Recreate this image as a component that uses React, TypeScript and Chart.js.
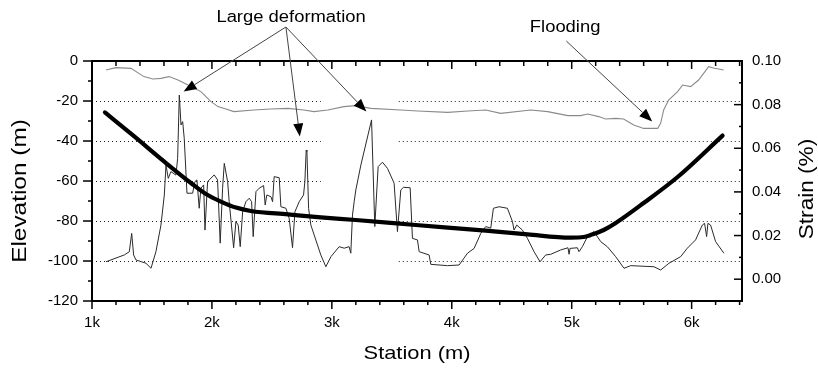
import React, { useEffect, useRef } from "react";
import { Chart, registerables } from "chart.js";

Chart.register(...registerables);

// ---------- data ----------
const groundStation = [1117, 1200, 1325, 1433, 1508, 1575, 1642, 1717, 1800, 1908, 1992, 2050, 2117, 2183, 2350, 2492, 2633, 2767, 2850, 2967, 3100, 3200, 3325, 3575, 3717, 3967, 4133, 4283, 4408, 4658, 4800, 4967, 5075, 5133, 5225, 5283, 5367, 5433, 5517, 5600, 5717, 5742, 5767, 5808, 5883, 5925, 5992, 6058, 6142, 6183, 6267];
const groundElevation = [-4.5, -3.3, -3.7, -7.8, -9, -8.7, -7.8, -9.5, -12, -15.3, -20.3, -22.8, -24, -25.3, -24.5, -24, -23.7, -24.5, -25.3, -24.5, -22.8, -22.3, -23.7, -24.5, -25, -25.7, -25, -24.5, -26.2, -24.5, -25.3, -27.3, -27.3, -26.5, -27.8, -29, -28.7, -29, -32, -33.7, -33.7, -31, -24.5, -19.5, -15.3, -12, -12.8, -9.5, -2.8, -3.5, -4.5];

const pipeStation = [1108, 1350, 1603, 1825, 1950, 2075, 2200, 2325, 2633, 2908, 3200, 3700, 4283, 4633, 4992, 5100, 5158, 5267, 5367, 5600, 5883, 6258];
const pipeElevation = [-25.7, -37.6, -50.3, -61, -66.5, -70.3, -73.3, -75, -76.7, -78.2, -79.5, -82, -84.8, -86.7, -88.3, -88, -87, -84.5, -81, -71, -58, -37.3];

const strainStation = [1117, 1269, 1311, 1331, 1347, 1367, 1450, 1492, 1533, 1575, 1603, 1617, 1636, 1658, 1700, 1714, 1728, 1742, 1756, 1769, 1792, 1839, 1858, 1875, 1894, 1908, 1931, 1942, 1964, 2019, 2047, 2069, 2089, 2103, 2131, 2144, 2181, 2200, 2219, 2236, 2256, 2283, 2311, 2331, 2344, 2367, 2394, 2431, 2444, 2458, 2492, 2506, 2519, 2561, 2575, 2617, 2644, 2672, 2692, 2728, 2764, 2775, 2786, 2792, 2806, 2825, 2908, 2950, 2992, 3061, 3103, 3144, 3158, 3172, 3186, 3200, 3242, 3331, 3358, 3386, 3422, 3464, 3519, 3547, 3575, 3597, 3653, 3672, 3714, 3728, 3811, 3825, 3964, 4061, 4131, 4186, 4242, 4283, 4325, 4347, 4394, 4464, 4506, 4519, 4542, 4589, 4631, 4686, 4736, 4783, 4825, 4908, 4969, 4978, 4986, 5047, 5061, 5089, 5131, 5186, 5242, 5297, 5367, 5436, 5492, 5686, 5742, 5811, 5908, 5964, 6033, 6089, 6108, 6125, 6136, 6158, 6200, 6269];
const strainValue = [0.008, 0.0111, 0.0126, 0.021, 0.0111, 0.0088, 0.0073, 0.005, 0.0126, 0.0248, 0.0386, 0.0523, 0.0462, 0.0493, 0.0477, 0.0554, 0.0844, 0.0707, 0.0722, 0.0646, 0.0394, 0.0394, 0.0447, 0.0455, 0.0325, 0.0417, 0.0432, 0.0225, 0.0447, 0.0478, 0.0455, 0.0165, 0.0417, 0.0531, 0.0447, 0.0355, 0.0144, 0.0264, 0.0248, 0.0149, 0.0309, 0.0355, 0.0371, 0.0355, 0.0195, 0.0401, 0.0417, 0.0429, 0.034, 0.0386, 0.0378, 0.0355, 0.047, 0.0465, 0.0332, 0.0325, 0.0279, 0.0144, 0.0309, 0.0355, 0.0386, 0.0447, 0.0592, 0.0585, 0.0325, 0.0248, 0.0111, 0.0057, 0.0103, 0.0149, 0.0142, 0.0149, 0.0119, 0.0294, 0.0355, 0.0409, 0.0523, 0.073, 0.0241, 0.0516, 0.0536, 0.0508, 0.044, 0.0218, 0.0409, 0.0421, 0.0419, 0.0187, 0.018, 0.0126, 0.0111, 0.0068, 0.0062, 0.0065, 0.0119, 0.0141, 0.021, 0.0241, 0.0234, 0.0325, 0.0332, 0.0325, 0.0264, 0.0225, 0.0248, 0.0225, 0.0187, 0.0126, 0.008, 0.0111, 0.0114, 0.0134, 0.0144, 0.0114, 0.0141, 0.0144, 0.0126, 0.0149, 0.0195, 0.0218, 0.0172, 0.0149, 0.0103, 0.005, 0.0062, 0.0057, 0.0042, 0.0073, 0.0103, 0.0142, 0.018, 0.0248, 0.0256, 0.0195, 0.0256, 0.0248, 0.0172, 0.0119];

const xTickValues = [1000, 2000, 3000, 4000, 5000, 6000];
const xTickLabels = ["1k", "2k", "3k", "4k", "5k", "6k"];
const xMinorTicks = [1200, 1400, 1600, 1800, 2200, 2400, 2600, 2800, 3200, 3400, 3600, 3800, 4200, 4400, 4600, 4800, 5200, 5400, 5600, 5800, 6200, 6400];
const elevTickValues = [-120, -100, -80, -60, -40, -20, 0];
const elevTickLabels = ["-120", "-100", "-80", "-60", "-40", "-20", "0"];
const elevMinorTicks = [-110, -90, -70, -50, -30, -10];
const elevGridValues = [-100, -80, -60, -40, -20];
const strainTickValues = [0, 0.02, 0.04, 0.06, 0.08, 0.1];
const strainTickLabels = ["0.00", "0.02", "0.04", "0.06", "0.08", "0.10"];
const strainMinorTicks = [-0.01, 0.01, 0.03, 0.05, 0.07, 0.09];
const gridGapStation = [2908, 3558];

const annotationTexts = ["Large deformation", "Flooding"];
const annotationStation = [2660, 4945];
const annotationElevation = [21.5, 16.5];
const arrowFromStation = [2617, 2617, 2617, 4955];
const arrowFromElevation = [17, 17, 17, 10];
const arrowToStation = [1764, 2733, 3288, 5671];
const arrowToElevation = [-15.3, -37.8, -25.3, -30.2];

const FONT = "'Liberation Sans', Arial, Helvetica, sans-serif";

function stretchedText(ctx: CanvasRenderingContext2D, text: string, x: number, y: number, rot: number, size: number, sx: number) {
  ctx.save();
  ctx.translate(x, y);
  ctx.rotate(rot);
  ctx.scale(sx, 1);
  ctx.font = `${size}px ${FONT}`;
  ctx.fillStyle = "#000";
  ctx.textAlign = "center";
  ctx.textBaseline = "middle";
  ctx.fillText(text, 0, 0);
  ctx.restore();
}

const framePlugin = {
  id: "framePlugin",
  beforeDatasetsDraw(chart: any) {
    const { ctx, chartArea } = chart;
    const x = chart.scales.x;
    const y = chart.scales.y;
    const gx0 = x.getPixelForValue(gridGapStation[0]);
    const gx1 = x.getPixelForValue(gridGapStation[1]);
    ctx.save();
    ctx.strokeStyle = "#222";
    ctx.lineWidth = 1;
    ctx.setLineDash([1, 3]);
    elevGridValues.forEach((v) => {
      const py = Math.round(y.getPixelForValue(v)) + 0.5;
      ctx.beginPath();
      ctx.moveTo(chartArea.left, py);
      ctx.lineTo(gx0, py);
      ctx.moveTo(gx1, py);
      ctx.lineTo(chartArea.right, py);
      ctx.stroke();
    });
    ctx.restore();
  },
  afterDatasetsDraw(chart: any) {
    const { ctx, chartArea } = chart;
    const x = chart.scales.x;
    const y = chart.scales.y;
    const y1 = chart.scales.y1;
    const { left, right, top, bottom } = chartArea;
    ctx.save();
    ctx.strokeStyle = "#000";
    ctx.lineWidth = 2;
    ctx.setLineDash([]);
    ctx.strokeRect(left, top, right - left, bottom - top);
    ctx.lineWidth = 1.5;
    const seg = (x0: number, y0: number, x1: number, yy1: number) => {
      ctx.beginPath();
      ctx.moveTo(x0, y0);
      ctx.lineTo(x1, yy1);
      ctx.stroke();
    };
    xTickValues.forEach((v) => {
      const px = x.getPixelForValue(v);
      seg(px, bottom, px, bottom + 8);
      seg(px, top, px, top + 8);
    });
    xMinorTicks.forEach((v) => {
      const px = x.getPixelForValue(v);
      seg(px, bottom, px, bottom + 4);
      seg(px, top, px, top + 5);
    });
    elevTickValues.forEach((v) => {
      const py = y.getPixelForValue(v);
      seg(left - 9, py, left, py);
    });
    elevMinorTicks.forEach((v) => {
      const py = y.getPixelForValue(v);
      seg(left - 4, py, left, py);
    });
    strainTickValues.forEach((v) => {
      const py = y1.getPixelForValue(v);
      seg(right - 8, py, right, py);
    });
    strainMinorTicks.forEach((v) => {
      const py = y1.getPixelForValue(v);
      seg(right - 3, py, right, py);
    });

    // arrows
    for (let i = 0; i < arrowFromStation.length; i++) {
      const ax = x.getPixelForValue(arrowFromStation[i]);
      const ay = y.getPixelForValue(arrowFromElevation[i]);
      const bx = x.getPixelForValue(arrowToStation[i]);
      const by = y.getPixelForValue(arrowToElevation[i]);
      const ang = Math.atan2(by - ay, bx - ax);
      const hl = 13;
      const hw = 5;
      const baseX = bx - hl * Math.cos(ang);
      const baseY = by - hl * Math.sin(ang);
      ctx.strokeStyle = "#444";
      ctx.lineWidth = 1;
      seg(ax, ay, baseX, baseY);
      ctx.fillStyle = "#000";
      ctx.beginPath();
      ctx.moveTo(bx, by);
      ctx.lineTo(baseX + hw * Math.sin(ang), baseY - hw * Math.cos(ang));
      ctx.lineTo(baseX - hw * Math.sin(ang), baseY + hw * Math.cos(ang));
      ctx.closePath();
      ctx.fill();
    }
    ctx.restore();

    annotationTexts.forEach((t, i) => {
      stretchedText(ctx, t, x.getPixelForValue(annotationStation[i]), y.getPixelForValue(annotationElevation[i]), 0, 16, 1.15);
    });

    // axis titles
    stretchedText(ctx, "Elevation (m)", left - 72, (top + bottom) / 2 + 10, -Math.PI / 2, 20, 1.22);
    stretchedText(ctx, "Strain (%)", right + 65, (top + bottom) / 2 + 8, -Math.PI / 2, 20, 1.13);
    stretchedText(ctx, "Station (m)", (left + right) / 2, bottom + 53, 0, 19, 1.15);
  },
};

export default function App() {
  const ref = useRef<HTMLCanvasElement | null>(null);
  useEffect(() => {
    document.body.style.margin = "0";
    const canvas = ref.current;
    if (!canvas) return;
    const tickFont = { family: FONT, size: 15 };
    const chart = new Chart(canvas, {
      type: "line",
      data: {
        datasets: [
          {
            label: "Pipeline",
            data: pipeStation.map((s, i) => ({ x: s, y: pipeElevation[i] })),
            borderColor: "#000",
            borderWidth: 4.2,
            borderCapStyle: "round",
            pointRadius: 0,
            cubicInterpolationMode: "monotone",
            yAxisID: "y",
          },
          {
            label: "Strain",
            data: strainStation.map((s, i) => ({ x: s, y: strainValue[i] })),
            borderColor: "#2a2a2a",
            borderWidth: 1,
            pointRadius: 0,
            tension: 0,
            yAxisID: "y1",
          },
          {
            label: "Ground",
            data: groundStation.map((s, i) => ({ x: s, y: groundElevation[i] })),
            borderColor: "#8a8a8a",
            borderWidth: 1.1,
            pointRadius: 0,
            tension: 0,
            yAxisID: "y",
          },
        ],
      },
      options: {
        responsive: false,
        animation: false,
        devicePixelRatio: 1,
        events: [],
        layout: { padding: { top: 61, left: 0, right: 0, bottom: 0 } },
        plugins: { legend: { display: false }, tooltip: { enabled: false }, title: { display: false } },
        scales: {
          x: {
            type: "linear",
            position: "bottom",
            min: 1000,
            max: 6420,
            grid: { display: false, drawTicks: false },
            border: { display: false },
            afterBuildTicks: (s: any) => {
              s.ticks = xTickValues.map((v) => ({ value: v }));
            },
            afterFit: (s: any) => {
              s.height = 69;
            },
            ticks: {
              autoSkip: false,
              maxRotation: 0,
              padding: 13,
              color: "#000",
              font: tickFont,
              callback: (v: any) => {
                const i = xTickValues.indexOf(Number(v));
                return i >= 0 ? xTickLabels[i] : "";
              },
            },
          },
          y: {
            type: "linear",
            position: "left",
            min: -120,
            max: 0,
            grid: { display: false, drawTicks: false },
            border: { display: false },
            afterBuildTicks: (s: any) => {
              s.ticks = elevTickValues.map((v) => ({ value: v }));
            },
            afterFit: (s: any) => {
              s.width = 92;
            },
            ticks: {
              padding: 14,
              color: "#000",
              font: tickFont,
              callback: (v: any) => {
                const i = elevTickValues.indexOf(Number(v));
                return i >= 0 ? elevTickLabels[i] : "";
              },
            },
          },
          y1: {
            type: "linear",
            position: "right",
            min: -0.01,
            max: 0.1,
            grid: { display: false, drawTicks: false },
            border: { display: false },
            afterBuildTicks: (s: any) => {
              s.ticks = strainTickValues.map((v) => ({ value: v }));
            },
            afterFit: (s: any) => {
              s.width = 76;
            },
            ticks: {
              padding: 10,
              color: "#000",
              font: tickFont,
              callback: (v: any) => {
                const n = Number(v);
                const i = strainTickValues.findIndex((t) => Math.abs(t - n) < 1e-9);
                return i >= 0 ? strainTickLabels[i] : "";
              },
            },
          },
        },
      },
      plugins: [framePlugin],
    } as any);
    return () => chart.destroy();
  }, []);
  return (
    <div style={{ position: "absolute", left: 0, top: 0, width: 818, height: 370, background: "#fff" }}>
      <canvas ref={ref} width={818} height={370} style={{ display: "block", width: 818, height: 370 }} />
    </div>
  );
}
